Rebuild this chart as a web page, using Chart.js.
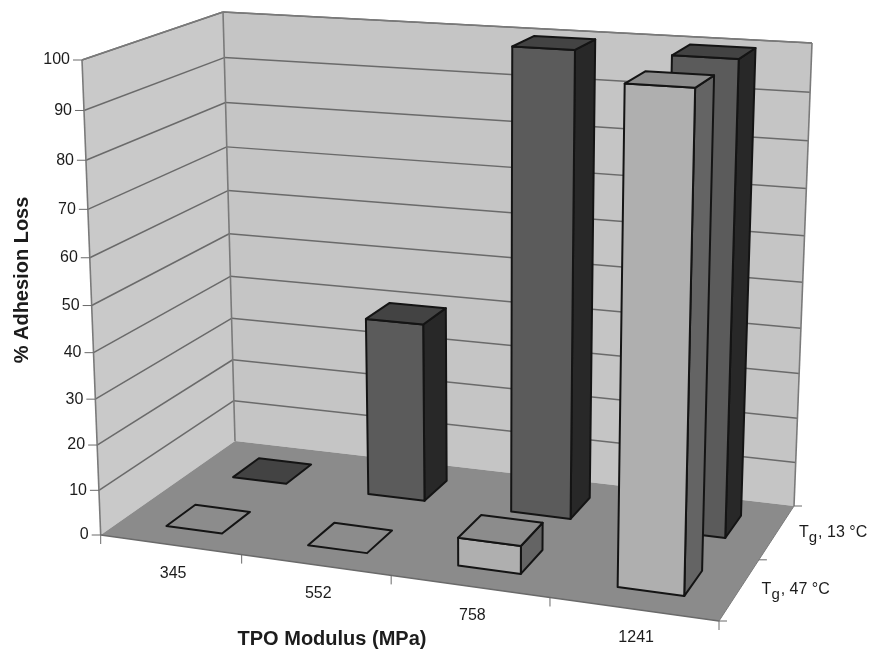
<!DOCTYPE html>
<html>
<head>
<meta charset="utf-8">
<style>
  html, body { margin: 0; padding: 0; background: #fff; }
</style>
</head>
<body>
<canvas id="chart" width="873" height="653"></canvas>
<script src="https://cdn.jsdelivr.net/npm/chart.js@4/dist/chart.umd.min.js"></script>
<script>
var categories = ['345', '552', '758', '1241'];
var seriesLabels = ['Tg, 47 °C', 'Tg, 13 °C'];
var valuesTg47 = [0, 0, 6, 100];
var valuesTg13 = [0, 40, 100, 100];
var yTicks = [0, 10, 20, 30, 40, 50, 60, 70, 80, 90, 100];
var xTitle = 'TPO Modulus (MPa)';
var yTitle = '% Adhesion Loss';

// corners of the 3d box on the page: front left, front right, back right, back left
var floorCorners = [[100.7, 535], [719, 621], [794, 506], [235, 441]];
var roofCorners = [[82, 60], [732, 100], [812, 43], [223, 12]];
var heightSkew = 1.07;
var roofSkew = 1.03;

var barWidth = 0.4;
var barDepth = 0.42;
var barShift = 0.006;

var colors = {
  wall: '#c5c5c5',
  sideWall: '#c9c9c9',
  floor: '#8b8b8b',
  grid: '#6a6a6a',
  edge: '#7a7a7a',
  text: '#1c1c1c',
  outline: '#141414',
  bars: [
    { front: '#afafaf', top: '#8c8c8c', side: '#646464' },
    { front: '#5b5b5b', top: '#434343', side: '#282828' }
  ]
};

function quadMap(p) {
  var dx1 = p[1][0] - p[2][0], dx2 = p[3][0] - p[2][0], dx3 = p[0][0] - p[1][0] + p[2][0] - p[3][0];
  var dy1 = p[1][1] - p[2][1], dy2 = p[3][1] - p[2][1], dy3 = p[0][1] - p[1][1] + p[2][1] - p[3][1];
  var den = dx1 * dy2 - dx2 * dy1;
  var g = (dx3 * dy2 - dx2 * dy3) / den;
  var h = (dx1 * dy3 - dx3 * dy1) / den;
  var a = p[1][0] - p[0][0] + g * p[1][0], b = p[3][0] - p[0][0] + h * p[3][0];
  var d = p[1][1] - p[0][1] + g * p[1][1], e = p[3][1] - p[0][1] + h * p[3][1];
  return function (u, w) {
    var q = g * u + h * w + 1;
    return [(a * u + b * w + p[0][0]) / q, (d * u + e * w + p[0][1]) / q];
  };
}

var floorMap = quadMap(floorCorners);
var roofMap = quadMap(roofCorners);

function project(u, w, v) {
  var s = v / (v + (1 - v) * heightSkew);
  var b = floorMap(u, w);
  var t = roofMap(u / (u + (1 - u) * roofSkew), w);
  return [b[0] + (t[0] - b[0]) * s, b[1] + (t[1] - b[1]) * s];
}

function poly(ctx, pts, fill, stroke, lw) {
  ctx.beginPath();
  pts.forEach(function (p, i) {
    if (i == 0) ctx.moveTo(p[0], p[1]); else ctx.lineTo(p[0], p[1]);
  });
  ctx.closePath();
  if (fill) { ctx.fillStyle = fill; ctx.fill(); }
  if (stroke) { ctx.strokeStyle = stroke; ctx.lineWidth = lw; ctx.lineJoin = 'round'; ctx.stroke(); }
}

function line(ctx, a, b, color, lw) {
  ctx.beginPath();
  ctx.moveTo(a[0], a[1]);
  ctx.lineTo(b[0], b[1]);
  ctx.strokeStyle = color;
  ctx.lineWidth = lw;
  ctx.stroke();
}

var box3d = {
  id: 'box3d',
  beforeDatasetsDraw: function (chart) {
    var ctx = chart.ctx;
    var sx = chart.scales.x, sy = chart.scales.y, sd = chart.scales.depth;

    function uOf(i) { return (sx.getPixelForValue(i) - sx.left) / sx.width; }
    function wOf(i) { return (sd.getPixelForValue(i) - sd.left) / sd.width; }
    function vOf(val) { return (sy.bottom - sy.getPixelForValue(val)) / sy.height; }

    ctx.save();
    ctx.lineCap = 'butt';

    // walls and floor
    poly(ctx, [project(0, 0, 0), project(0, 1, 0), project(0, 1, 1), project(0, 0, 1)], colors.sideWall);
    poly(ctx, [project(0, 1, 0), project(1, 1, 0), project(1, 1, 1), project(0, 1, 1)], colors.wall);
    poly(ctx, [project(0, 0, 0), project(1, 0, 0), project(1, 1, 0), project(0, 1, 0)], colors.floor);

    sy.ticks.forEach(function (t) {
      if (t.value == 0) return;
      var v = vOf(t.value);
      line(ctx, project(0, 0, v), project(0, 1, v), colors.grid, 1.5);
      line(ctx, project(0, 1, v), project(1, 1, v), colors.grid, 1.5);
    });
    line(ctx, project(0, 0, 0), project(0, 0, 1), colors.edge, 1.6);
    line(ctx, project(0, 1, 0), project(0, 1, 1), colors.edge, 1.6);
    line(ctx, project(1, 1, 0), project(1, 1, 1), colors.edge, 1.6);
    line(ctx, project(0, 0, 1), project(0, 1, 1), colors.edge, 1.6);
    line(ctx, project(0, 1, 1), project(1, 1, 1), colors.edge, 1.6);
    line(ctx, project(0, 0, 0), project(1, 0, 0), colors.grid, 1.3);
    line(ctx, project(1, 0, 0), project(1, 1, 0), colors.edge, 1);

    // bars, back row first
    for (var d = chart.data.datasets.length - 1; d >= 0; d--) {
      var ds = chart.data.datasets[d];
      var c = colors.bars[d];
      var w0 = wOf(d) - barDepth / 4, w1 = wOf(d) + barDepth / 4;
      ds.data.forEach(function (val, i) {
        var half = barWidth / categories.length / 2;
        var u0 = uOf(i) + barShift - half, u1 = uOf(i) + barShift + half, v = vOf(val);
        var top = [project(u0, w0, v), project(u1, w0, v), project(u1, w1, v), project(u0, w1, v)];
        if (val > 0) {
          poly(ctx, [project(u1, w0, 0), project(u1, w1, 0), project(u1, w1, v), project(u1, w0, v)], c.side, colors.outline, 2);
          poly(ctx, [project(u0, w0, 0), project(u1, w0, 0), project(u1, w0, v), project(u0, w0, v)], c.front, colors.outline, 2);
        }
        poly(ctx, top, c.top, colors.outline, 2);
      });
    }

    // tick marks and labels
    ctx.fillStyle = colors.text;
    ctx.font = '16px "Liberation Sans"';
    ctx.textBaseline = 'middle';
    ctx.textAlign = 'right';
    sy.ticks.forEach(function (t) {
      var p = project(0, 0, vOf(t.value));
      line(ctx, [p[0] - 9, p[1]], p, colors.grid, 1);
      ctx.fillStyle = colors.text;
      ctx.fillText(t.label, p[0] - 12, p[1]);
    });

    for (var i = 0; i <= categories.length; i++) {
      var p = project(i / categories.length, 0, 0);
      line(ctx, p, [p[0], p[1] + 9], colors.grid, 1);
    }
    ctx.textAlign = 'center';
    ctx.fillStyle = colors.text;
    categories.forEach(function (name, i) {
      var p = project(uOf(i), 0, 0);
      ctx.fillText(name, p[0] + 3, p[1] + 29);
    });

    for (var k = 0; k <= seriesLabels.length; k++) {
      var q = project(1, k / seriesLabels.length, 0);
      line(ctx, q, [q[0] + 8, q[1]], colors.grid, 1);
    }
    ctx.textAlign = 'left';
    ctx.fillStyle = colors.text;
    seriesLabels.forEach(function (name, s) {
      var p = project(1, wOf(s), 0);
      var x = p[0] + 22, y = p[1] + 0.5;
      ctx.font = '16px "Liberation Sans"';
      ctx.fillText(name.charAt(0), x, y);
      x += ctx.measureText(name.charAt(0)).width;
      ctx.font = '15px "Liberation Sans"';
      ctx.fillText(name.charAt(1), x, y + 5);
      x += ctx.measureText(name.charAt(1)).width + 1;
      ctx.font = '16px "Liberation Sans"';
      ctx.fillText(name.slice(2), x, y);
    });

    // axis titles
    ctx.font = 'bold 20px "Liberation Sans"';
    ctx.textAlign = 'center';
    ctx.fillText(xTitle, 332, 639);
    ctx.translate(22, 280);
    ctx.rotate(-Math.PI / 2);
    ctx.fillText(yTitle, 0, 0);
    ctx.restore();

    return false;
  }
};

var data = {
  labels: categories,
  datasets: [
    { label: seriesLabels[0], data: valuesTg47 },
    { label: seriesLabels[1], data: valuesTg13 }
  ]
};

var config = {
  type: 'bar',
  data: data,
  options: {
    responsive: false,
    animation: false,
    plugins: { legend: { display: false }, tooltip: { enabled: false } },
    scales: {
      x: { type: 'category', display: false },
      depth: { type: 'category', axis: 'x', labels: seriesLabels, display: false },
      y: {
        display: false,
        min: 0,
        max: 100,
        afterBuildTicks: function (axis) {
          axis.ticks = yTicks.map(function (t) { return { value: t }; });
        }
      }
    }
  },
  plugins: [box3d]
};

var myChart = new Chart(document.getElementById('chart'), config);
</script>
</body>
</html>
